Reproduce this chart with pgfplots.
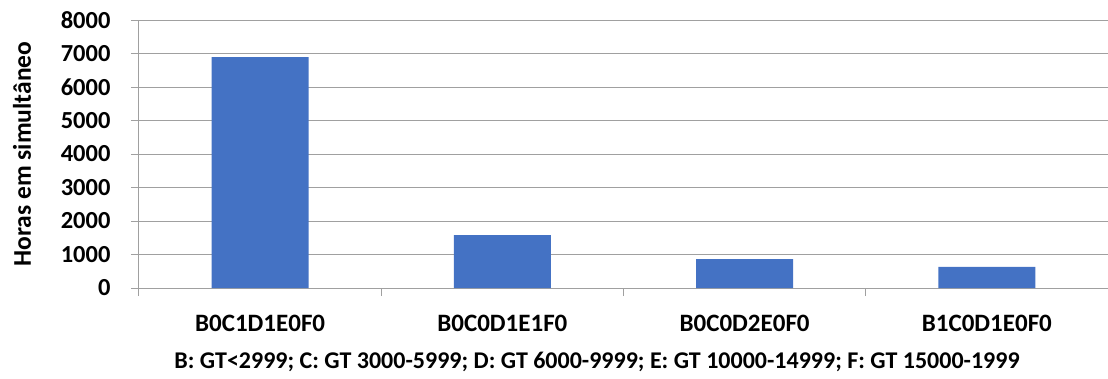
\documentclass[border=0pt]{standalone}
\usepackage{pgfplots}
\pgfplotsset{compat=1.18}
\usepackage{fontspec}
\setmainfont{Carlito}
\definecolor{barblue}{HTML}{4472C4}
\definecolor{gridgray}{HTML}{A0A0A0}
\begin{document}
\begin{tikzpicture}
\path[use as bounding box] (-139pt,-90pt) rectangle (969pt,288pt);
\begin{axis}[
  at={(0pt,0pt)}, anchor=south west,
  scale only axis,
  width=969pt, height=268pt,
  xmin=-0.5, xmax=3.5,
  ymin=0, ymax=8000,
  xtick={0,1,2,3},
  xticklabels={B0C1D1E0F0,B0C0D1E1F0,B0C0D2E0F0,B1C0D1E0F0},
  minor xtick={-0.5,0.5,1.5,2.5,3.5},
  ytick={0,1000,...,8000},
  ymajorgrids,
  major grid style={gridgray, line width=1pt},
  axis x line=bottom, axis y line=left,
  axis line style={gridgray, line width=1pt, -},
  tick align=outside,
  major tick length=8pt, minor tick length=8pt,
  x tick style={draw=none},
  minor x tick style={draw=gridgray, line width=1pt},
  y tick style={gridgray, line width=1pt},
  /pgf/number format/assume math mode=true,
  /pgf/number format/.cd, 1000 sep={}, /pgfplots/.cd,
  yticklabel style={font=\fontsize{24.5}{29}\selectfont\bfseries, xshift=-17pt},
  xticklabel style={font=\fontsize{25}{29}\selectfont\bfseries, yshift=-16pt},
  ylabel={Horas em simultâneo},
  every axis y label/.style={at={(axis description cs:-0.1207,0.5)},
    rotate=90, anchor=center, font=\fontsize{25.5}{30}\selectfont\bfseries},
  xlabel={B: GT<2999; C: GT 3000-5999; D: GT 6000-9999; E: GT 10000-14999; F: GT 15000-1999},
  every axis x label/.style={at={(axis description cs:0.4727,-0.276)},
    anchor=center, font=\fontsize{24}{28}\selectfont\bfseries},
  clip=false,
]
\addplot[ybar, bar width=97pt, fill=barblue, draw=none] coordinates {
  (0,6890) (1,1580) (2,860) (3,630)
};
\end{axis}
\end{tikzpicture}
\end{document}
